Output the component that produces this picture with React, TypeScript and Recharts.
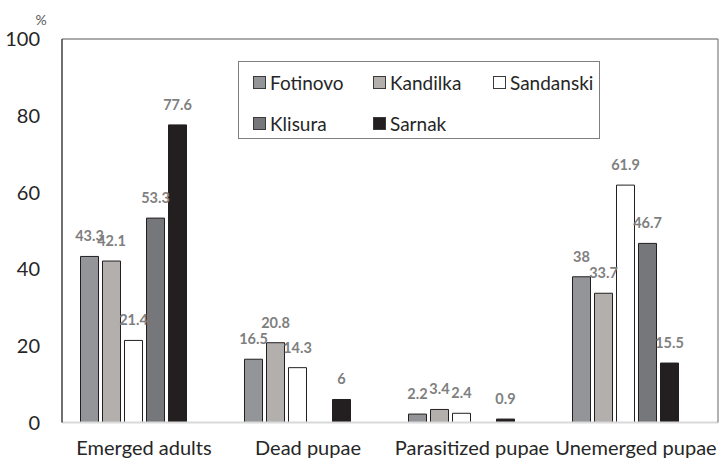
import React from "react";
import {
  BarChart,
  Bar,
  XAxis,
  YAxis,
  Legend,
  LabelList,
} from "recharts";

const categories = ["Emerged adults", "Dead pupae", "Parasitized pupae", "Unemerged pupae"];
const fotinovo = [43.3, 16.5, 2.2, 38];
const kandilka = [42.1, 20.8, 3.4, 33.7];
const sandanski = [21.4, 14.3, 2.4, 61.9];
const klisura: (number | null)[] = [53.3, null, null, 46.7];
const sarnak = [77.6, 6, 0.9, 15.5];
const yTicks = [0, 20, 40, 60, 80, 100];

const series = [
  { key: "Fotinovo", values: fotinovo, fill: "#939598" },
  { key: "Kandilka", values: kandilka, fill: "#b3afad" },
  { key: "Sandanski", values: sandanski, fill: "#ffffff" },
  { key: "Klisura", values: klisura, fill: "#76777b" },
  { key: "Sarnak", values: sarnak, fill: "#231f20" },
];

const data = categories.map((name, i) => {
  const row: Record<string, string | number | null> = { name };
  series.forEach((s) => (row[s.key] = s.values[i]));
  return row;
});

const FONT = "Lato, 'Open Sans', sans-serif";

function LegendBox() {
  return (
    <div
      style={{
        width: 362,
        height: 78,
        boxSizing: "border-box",
        border: "1.5px solid #7f7f7f",
        background: "#fff",
        padding: "8px 0 0 14px",
        display: "grid",
        gridTemplateColumns: "120px 120px 120px",
        gridAutoRows: "41px",
        fontFamily: FONT,
        fontSize: 19,
        color: "#262626",
      }}
    >
      {series.map((s) => (
        <div key={s.key} style={{ display: "flex", alignItems: "center", height: 24, whiteSpace: "nowrap" }}>
          <span
            style={{
              display: "inline-block",
              flex: "none",
              width: 11,
              height: 11,
              background: s.fill,
              border: "1px solid #3a3a3a",
              marginRight: 4,
            }}
          />
          <span>{s.key}</span>
        </div>
      ))}
    </div>
  );
}

export default function App() {
  return (
    <div style={{ position: "absolute", left: 0, top: 0, width: 719, height: 461, background: "#fff" }}>
      <BarChart
        width={719}
        height={461}
        data={data}
        margin={{ top: 38, right: 0, left: 0, bottom: 0 }}
        barCategoryGap={29}
        barGap={4}
      >
        <XAxis
          xAxisId="bars"
          dataKey="name"
          hide
          height={0}
          padding={{ left: -10.5, right: 10.5 }}
        />
        <XAxis
          xAxisId="labels"
          dataKey="name"
          height={38.5}
          axisLine={{ stroke: "#d9d9d9", strokeWidth: 2 }}
          tickLine={false}
          tickMargin={12}
          interval={0}
          tick={{ fill: "#262626", fontSize: 20, fontFamily: FONT }}
        />
        <XAxis
          xAxisId="top"
          dataKey="name"
          orientation="top"
          height={1}
          tick={false}
          tickLine={false}
          axisLine={{ stroke: "#595959", strokeWidth: 1.2 }}
        />
        <YAxis
          yAxisId="left"
          width={62}
          domain={[0, 100]}
          ticks={yTicks}
          interval={0}
          axisLine={{ stroke: "#404040", strokeWidth: 1.5 }}
          tickLine={false}
          tickMargin={16}
          tick={{ fill: "#262626", fontSize: 20, fontFamily: FONT }}
          label={{
            value: "%",
            position: "top",
            offset: 14,
            dx: 10,
            fill: "#595959",
            fontSize: 14,
            fontFamily: FONT,
          }}
        />
        <YAxis
          yAxisId="right"
          orientation="right"
          width={1}
          domain={[0, 100]}
          tick={false}
          tickLine={false}
          axisLine={{ stroke: "#7f7f7f", strokeWidth: 1.2 }}
        />
        <Legend
          layout="vertical"
          align="center"
          verticalAlign="middle"
          content={() => <LegendBox />}
          wrapperStyle={{ position: "absolute", left: 238, top: 61, width: 362, height: 78 }}
        />
        {series.map((s) => (
          <Bar
            key={s.key}
            dataKey={s.key}
            xAxisId="bars"
            yAxisId="left"
            fill={s.fill}
            stroke="#231f20"
            strokeWidth={1}
            isAnimationActive={false}
          >
            <LabelList
              dataKey={s.key}
              position="top"
              offset={15}
              fill="#7f7f7f"
              fontSize={14.5}
              fontWeight="bold"
              fontFamily={FONT}
            />
          </Bar>
        ))}
      </BarChart>
    </div>
  );
}
